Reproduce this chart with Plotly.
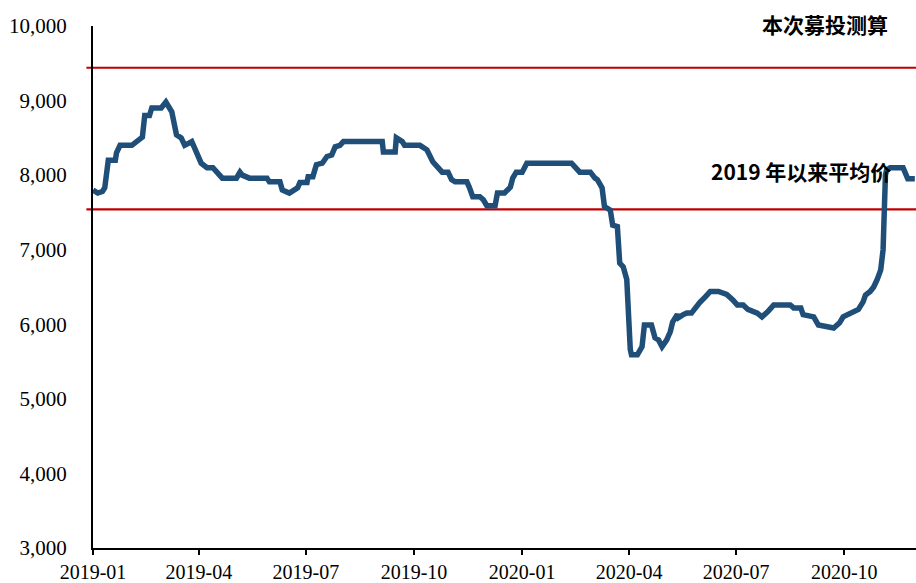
import plotly.graph_objects as go

dates = [
    "2019-01-01", "2019-01-05", "2019-01-09", "2019-01-11", "2019-01-14", "2019-01-20", "2019-01-21",
    "2019-01-24", "2019-02-03", "2019-02-08", "2019-02-12", "2019-02-14", "2019-02-18", "2019-02-20",
    "2019-02-28", "2019-03-04", "2019-03-07", "2019-03-09", "2019-03-13", "2019-03-17", "2019-03-20",
    "2019-03-26", "2019-03-28", "2019-04-03", "2019-04-08", "2019-04-13", "2019-04-21", "2019-05-03",
    "2019-05-06", "2019-05-08", "2019-05-14", "2019-05-29", "2019-05-31", "2019-06-09", "2019-06-11",
    "2019-06-17", "2019-06-24", "2019-06-26", "2019-07-02", "2019-07-03", "2019-07-07", "2019-07-10",
    "2019-07-15", "2019-07-19", "2019-07-23", "2019-07-26", "2019-07-30", "2019-08-02", "2019-09-04",
    "2019-09-05", "2019-09-15", "2019-09-16", "2019-09-21", "2019-09-23", "2019-10-06", "2019-10-12",
    "2019-10-17", "2019-10-21", "2019-10-25", "2019-10-30", "2019-11-02", "2019-11-05", "2019-11-15",
    "2019-11-17", "2019-11-20", "2019-11-26", "2019-11-29", "2019-12-02", "2019-12-09", "2019-12-11",
    "2019-12-17", "2019-12-22", "2019-12-24", "2019-12-27", "2020-01-01", "2020-01-05", "2020-02-12",
    "2020-02-19", "2020-02-28", "2020-03-03", "2020-03-05", "2020-03-09", "2020-03-11", "2020-03-16",
    "2020-03-18", "2020-03-22", "2020-03-23", "2020-03-24", "2020-03-27", "2020-03-30", "2020-04-02",
    "2020-04-03", "2020-04-08", "2020-04-12", "2020-04-14", "2020-04-20", "2020-04-23", "2020-04-26",
    "2020-04-29", "2020-05-03", "2020-05-06", "2020-05-08", "2020-05-12", "2020-05-13", "2020-05-17",
    "2020-05-20", "2020-05-24", "2020-05-27", "2020-05-31", "2020-06-05", "2020-06-09", "2020-06-16",
    "2020-06-23", "2020-06-28", "2020-07-02", "2020-07-07", "2020-07-11", "2020-07-19", "2020-07-23",
    "2020-07-28", "2020-08-02", "2020-08-16", "2020-08-19", "2020-08-25", "2020-08-27", "2020-09-05",
    "2020-09-09", "2020-09-22", "2020-09-27", "2020-09-30", "2020-10-04", "2020-10-11", "2020-10-13",
    "2020-10-17", "2020-10-19", "2020-10-23", "2020-10-26", "2020-10-29", "2020-11-01", "2020-11-03",
    "2020-11-04", "2020-11-05", "2020-11-06", "2020-11-09", "2020-11-20", "2020-11-23", "2020-11-24",
    "2020-11-30",
]
prices = [
    7800, 7760, 7780, 7830, 8200, 8200, 8300,
    8400, 8400, 8450, 8510, 8800, 8800, 8900,
    8900, 8980, 8900, 8850, 8540, 8500, 8400,
    8450, 8380, 8160, 8100, 8100, 7960, 7960,
    8040, 8000, 7960, 7960, 7910, 7910, 7800,
    7760, 7830, 7900, 7900, 7980, 7980, 8140,
    8160, 8250, 8270, 8380, 8400, 8450, 8450,
    8310, 8310, 8500, 8450, 8400, 8400, 8340,
    8180, 8110, 8040, 8040, 7940, 7910, 7910,
    7840, 7710, 7710, 7670, 7590, 7590, 7760,
    7760, 7840, 7960, 8040, 8040, 8160, 8160,
    8040, 8040, 7960, 7940, 7830, 7580, 7530,
    7330, 7310, 7000, 6820, 6770, 6600, 5660,
    5590, 5590, 5700, 5990, 5990, 5820, 5790,
    5700, 5790, 5900, 6030, 6130, 6090, 6130,
    6150, 6150, 6220, 6290, 6370, 6440, 6440,
    6400, 6330, 6260, 6260, 6200, 6150, 6100,
    6170, 6260, 6260, 6220, 6220, 6130, 6100,
    5990, 5950, 6020, 6100, 6130, 6200, 6200,
    6300, 6390, 6440, 6500, 6600, 6730, 7000,
    7600, 8000, 8070, 8100, 8100, 8000, 7950,
    7950,
]

ref_levels = [9440, 7540]
ref_labels = ["本次募投测算", "2019 年以来平均价"]
y_ticks = [3000, 4000, 5000, 6000, 7000, 8000, 9000, 10000]
x_ticks = ["2019-01-01", "2019-04-01", "2019-07-01", "2019-10-01",
           "2020-01-01", "2020-04-01", "2020-07-01", "2020-10-01"]
x_tick_text = ["2019-01", "2019-04", "2019-07", "2019-10",
               "2020-01", "2020-04", "2020-07", "2020-10"]

fig = go.Figure()
fig.add_trace(go.Scatter(
    x=dates, y=prices, mode="lines",
    line=dict(color="#1F4E79", width=5.5),
    showlegend=False, hoverinfo="skip",
))

for lv in ref_levels:
    fig.add_shape(type="line", xref="paper", x0=-0.008, x1=1, yref="y", y0=lv, y1=lv,
                  line=dict(color="#C00000", width=2.2), layer="below")

fig.add_annotation(text="<b>" + ref_labels[0] + "</b>", xref="paper", yref="paper",
                   x=0.968, y=1.003, xanchor="right", yanchor="middle", showarrow=False,
                   font=dict(family="Noto Sans CJK SC", size=21, color="black"))
fig.add_annotation(text="<b>" + ref_labels[1] + "</b>", xref="paper", yref="paper",
                   x=0.972, y=0.722, xanchor="right", yanchor="middle", showarrow=False,
                   font=dict(family="Noto Sans CJK SC", size=21, color="black"))

fig.update_layout(
    width=916, height=583,
    margin=dict(l=93, r=0, t=26, b=35, autoexpand=False),
    paper_bgcolor="white", plot_bgcolor="white",
    font=dict(family="Liberation Serif", size=20, color="black"),
)
fig.update_xaxes(
    range=["2019-01-01", "2020-12-01"],
    tickmode="array", tickvals=x_ticks, ticktext=x_tick_text,
    ticks="outside", ticklen=5, tickwidth=2, tickcolor="black",
    showline=True, linecolor="black", linewidth=2,
    showgrid=False, zeroline=False, automargin=False,
    tickfont=dict(family="Liberation Serif", size=20),
)
fig.update_yaxes(
    range=[3000, 10000],
    tickmode="array", tickvals=y_ticks, tickformat=",",
    ticks="outside", ticklen=20, tickcolor="rgba(0,0,0,0)",
    showline=True, linecolor="black", linewidth=2,
    showgrid=False, zeroline=False, automargin=False,
    tickfont=dict(family="Liberation Serif", size=21),
)

fig.write_html(
    "out.html",
    config={"displayModeBar": False},
    post_script="document.body.style.margin='0';document.body.style.overflow='hidden';",
)
